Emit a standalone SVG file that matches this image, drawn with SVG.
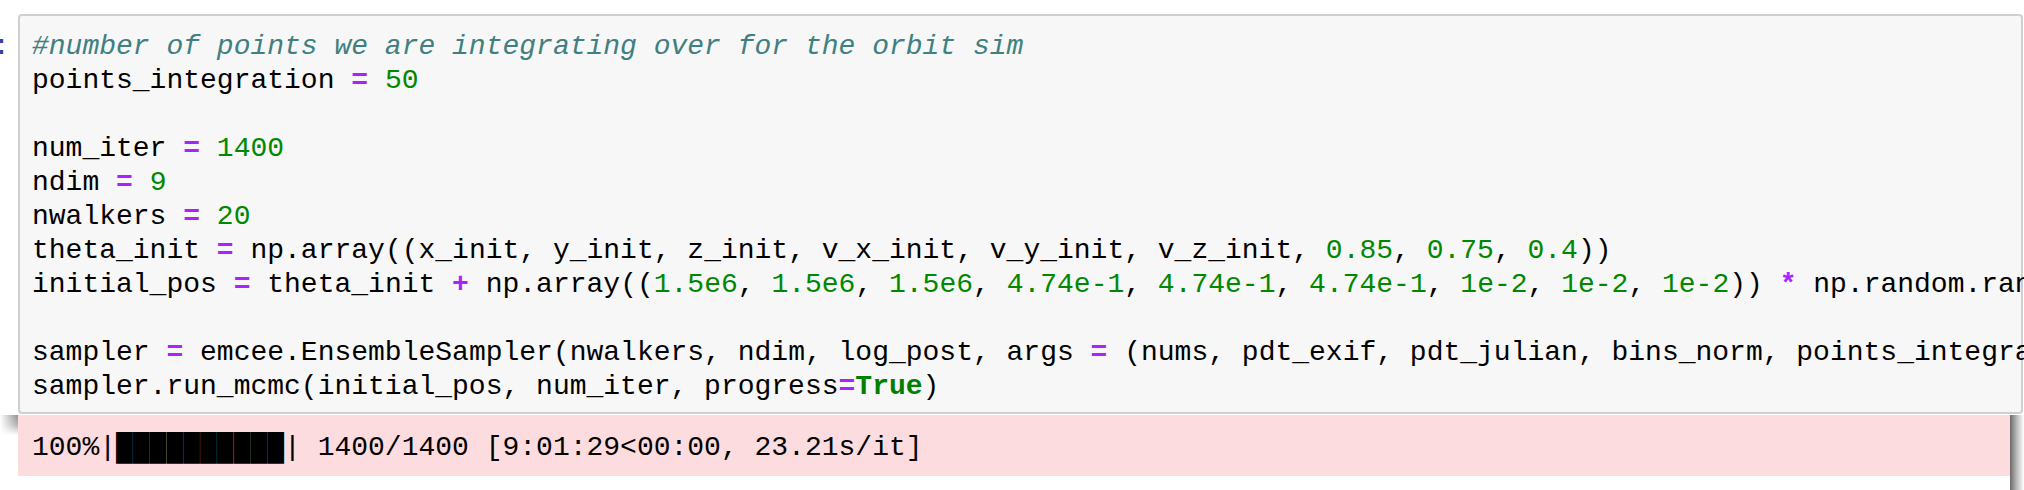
<svg xmlns="http://www.w3.org/2000/svg" width="2024" height="490" viewBox="0 0 2024 490">
<style>
text{font-family:"Liberation Mono","DejaVu Sans Mono",monospace;font-size:28px;fill:#000;white-space:pre}
.c{fill:#408080;font-style:italic}
.n{fill:#008800}
.o{fill:#AA22FF;font-weight:bold}
.k{fill:#008000;font-weight:bold}
.p{fill:#303F9F}
</style>
<defs>
<linearGradient id="shL" x1="0" y1="0" x2="1" y2="0">
<stop offset="0" stop-color="#ffffff"/>
<stop offset="1" stop-color="#8a8a8a"/>
</linearGradient>
<linearGradient id="fadeV" x1="0" y1="0" x2="0" y2="1">
<stop offset="0" stop-color="#fff" stop-opacity="1"/>
<stop offset="0.5" stop-color="#fff" stop-opacity="0.7"/>
<stop offset="1" stop-color="#fff" stop-opacity="0"/>
</linearGradient>
<mask id="mL"><rect x="0" y="415" width="19" height="20" fill="url(#fadeV)"/></mask>
<linearGradient id="shR" x1="0" y1="0" x2="1" y2="0">
<stop offset="0" stop-color="#6a6a6a"/>
<stop offset="0.5" stop-color="#bdbdbd"/>
<stop offset="1" stop-color="#ffffff"/>
</linearGradient>
</defs>
<rect width="2024" height="490" fill="#ffffff"/>
<g id="prompt"><text class="p" x="-7" y="54">:</text></g>
<g id="output">
<rect x="0" y="415" width="19" height="20" fill="url(#shL)" mask="url(#mL)"/>
<rect x="2010" y="415" width="14" height="75" fill="url(#shR)"/>
<rect x="18" y="415" width="1992" height="61" fill="#fddcdf"/>
<text x="32" y="455" xml:space="preserve">100%|██████████| 1400/1400 [9:01:29&lt;00:00, 23.21s/it]</text>
</g>
<g id="cell">
<rect x="19" y="15" width="2003" height="398" rx="3" fill="#f7f7f7" stroke="#cfcfcf" stroke-width="2"/>
<text x="32" y="54" class="c" xml:space="preserve">#number of points we are integrating over for the orbit sim</text>
<text x="32" y="88" xml:space="preserve">points_integration <tspan class="o">=</tspan> <tspan class="n">50</tspan></text>
<text x="32" y="156" xml:space="preserve">num_iter <tspan class="o">=</tspan> <tspan class="n">1400</tspan></text>
<text x="32" y="190" xml:space="preserve">ndim <tspan class="o">=</tspan> <tspan class="n">9</tspan></text>
<text x="32" y="224" xml:space="preserve">nwalkers <tspan class="o">=</tspan> <tspan class="n">20</tspan></text>
<text x="32" y="258" xml:space="preserve">theta_init <tspan class="o">=</tspan> np.array((x_init, y_init, z_init, v_x_init, v_y_init, v_z_init, <tspan class="n">0.85</tspan>, <tspan class="n">0.75</tspan>, <tspan class="n">0.4</tspan>))</text>
<text x="32" y="292" xml:space="preserve">initial_pos <tspan class="o">=</tspan> theta_init <tspan class="o">+</tspan> np.array((<tspan class="n">1.5e6</tspan>, <tspan class="n">1.5e6</tspan>, <tspan class="n">1.5e6</tspan>, <tspan class="n">4.74e-1</tspan>, <tspan class="n">4.74e-1</tspan>, <tspan class="n">4.74e-1</tspan>, <tspan class="n">1e-2</tspan>, <tspan class="n">1e-2</tspan>, <tspan class="n">1e-2</tspan>)) <tspan class="o">*</tspan> np.random.ran</text>
<text x="32" y="360" xml:space="preserve">sampler <tspan class="o">=</tspan> emcee.EnsembleSampler(nwalkers, ndim, log_post, args <tspan class="o">=</tspan> (nums, pdt_exif, pdt_julian, bins_norm, points_integra</text>
<text x="32" y="394" xml:space="preserve">sampler.run_mcmc(initial_pos, num_iter, progress<tspan class="o">=</tspan><tspan class="k">True</tspan>)</text>
</g>
</svg>
